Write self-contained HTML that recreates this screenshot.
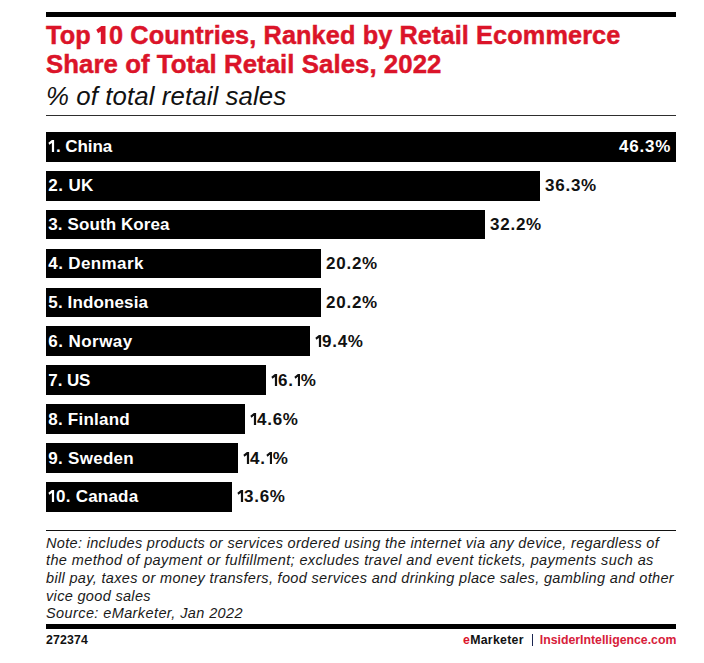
<!DOCTYPE html>
<html><head><meta charset="utf-8"><style>
html,body{margin:0;padding:0;background:#fff;}
body{width:704px;height:663px;position:relative;overflow:hidden;font-family:"Liberation Sans",sans-serif;}
.abs{position:absolute;white-space:nowrap;line-height:1;}
.rule{position:absolute;left:46px;width:630px;}
.t{color:#db1429;font-weight:bold;-webkit-text-stroke:0.45px #db1429;}
.bar{position:absolute;left:46px;height:29.8px;background:#000;}
.lab{position:absolute;left:48.3px;color:#fff;font-weight:bold;font-size:17px;line-height:1;white-space:nowrap;}
.val{position:absolute;color:#111;font-weight:bold;font-size:17px;line-height:1;white-space:nowrap;letter-spacing:0.75px;}
.val.in{color:#fff;right:33px;left:auto;}
svg.o{fill:currentColor;vertical-align:baseline;}
.val svg.o{margin-right:0.2px;}
.lab svg.o{margin-right:1px;}
.note{position:absolute;left:46px;color:#1a1a1a;font-style:italic;font-size:14.5px;line-height:1;white-space:nowrap;letter-spacing:0.33px;}
</style></head><body>
<div class="rule" style="top:12.4px;height:4.5px;background:#000"></div>
<div class="abs t" style="left:46px;top:22.6px;font-size:25.3px;letter-spacing:0.1px">Top <svg class="o" style="margin-left:-2.4px;margin-right:0.1px" width="13.4" height="17.9" viewBox="0 0 13.4 17.9"><path d="M0.3,3.7 L5.3,0 H9.5 V17.9 H4.8 V5.4 L2.1,7.3 Z"/></svg>0 Countries, Ranked by Retail Ecommerce</div>
<div class="abs t" style="left:46px;top:52.4px;font-size:25.8px;letter-spacing:0.05px">Share of Total Retail Sales, 2022</div>
<div class="abs" style="left:46px;top:83.7px;font-size:25.8px;font-style:italic;color:#111;letter-spacing:0.1px">% of total retail sales</div>
<div class="rule" style="top:115.1px;height:1.3px;background:#2e2e2e"></div>
<div class="bar" style="top:131.90px;width:630.00px"></div><span class="lab" style="top:137.80px;letter-spacing:-0.1px"><svg class="o" width="6.8" height="12.2" viewBox="0 0 6.8 12.2"><path d="M0.4,2.7 L3.9,0 H6.1 V12.2 H3.9 V3.1 L1.3,4.7 Z"/></svg>. China</span>
<span class="val in" style="top:137.80px">46.3%</span>
<div class="bar" style="top:170.80px;width:494.00px"></div><span class="lab" style="top:176.80px;letter-spacing:0.4px">2. UK</span>
<span class="val" style="top:176.80px;left:545.00px">36.3%</span>
<div class="bar" style="top:209.70px;width:439.00px"></div><span class="lab" style="top:215.80px;letter-spacing:0.1px">3. South Korea</span>
<span class="val" style="top:215.80px;left:490.00px">32.2%</span>
<div class="bar" style="top:248.60px;width:275.00px"></div><span class="lab" style="top:254.80px;letter-spacing:0.38px">4. Denmark</span>
<span class="val" style="top:254.80px;left:326.00px">20.2%</span>
<div class="bar" style="top:287.50px;width:275.00px"></div><span class="lab" style="top:293.80px;letter-spacing:0.13px">5. Indonesia</span>
<span class="val" style="top:293.80px;left:326.00px">20.2%</span>
<div class="bar" style="top:326.40px;width:264.00px"></div><span class="lab" style="top:332.80px;letter-spacing:0.45px">6. Norway</span>
<span class="val" style="top:332.80px;left:315.00px"><svg class="o" width="6.8" height="12.2" viewBox="0 0 6.8 12.2"><path d="M0.4,2.7 L3.9,0 H6.1 V12.2 H3.9 V3.1 L1.3,4.7 Z"/></svg>9.4%</span>
<div class="bar" style="top:365.30px;width:220.00px"></div><span class="lab" style="top:371.80px;letter-spacing:-0.1px">7. US</span>
<span class="val" style="top:371.80px;left:271.00px"><svg class="o" width="6.8" height="12.2" viewBox="0 0 6.8 12.2"><path d="M0.4,2.7 L3.9,0 H6.1 V12.2 H3.9 V3.1 L1.3,4.7 Z"/></svg>6.<svg class="o" width="6.8" height="12.2" viewBox="0 0 6.8 12.2"><path d="M0.4,2.7 L3.9,0 H6.1 V12.2 H3.9 V3.1 L1.3,4.7 Z"/></svg>%</span>
<div class="bar" style="top:404.20px;width:199.00px"></div><span class="lab" style="top:410.80px;letter-spacing:0.22px">8. Finland</span>
<span class="val" style="top:410.80px;left:250.00px"><svg class="o" width="6.8" height="12.2" viewBox="0 0 6.8 12.2"><path d="M0.4,2.7 L3.9,0 H6.1 V12.2 H3.9 V3.1 L1.3,4.7 Z"/></svg>4.6%</span>
<div class="bar" style="top:443.10px;width:192.00px"></div><span class="lab" style="top:449.80px;letter-spacing:0.28px">9. Sweden</span>
<span class="val" style="top:449.80px;left:243.00px"><svg class="o" width="6.8" height="12.2" viewBox="0 0 6.8 12.2"><path d="M0.4,2.7 L3.9,0 H6.1 V12.2 H3.9 V3.1 L1.3,4.7 Z"/></svg>4.<svg class="o" width="6.8" height="12.2" viewBox="0 0 6.8 12.2"><path d="M0.4,2.7 L3.9,0 H6.1 V12.2 H3.9 V3.1 L1.3,4.7 Z"/></svg>%</span>
<div class="bar" style="top:482.00px;width:186.00px"></div><span class="lab" style="top:487.80px;letter-spacing:0.22px"><svg class="o" width="6.8" height="12.2" viewBox="0 0 6.8 12.2"><path d="M0.4,2.7 L3.9,0 H6.1 V12.2 H3.9 V3.1 L1.3,4.7 Z"/></svg>0. Canada</span>
<span class="val" style="top:487.80px;left:237.00px"><svg class="o" width="6.8" height="12.2" viewBox="0 0 6.8 12.2"><path d="M0.4,2.7 L3.9,0 H6.1 V12.2 H3.9 V3.1 L1.3,4.7 Z"/></svg>3.6%</span>
<div class="rule" style="top:529.8px;height:1.3px;background:#111"></div>
<div class="note" style="top:535.6px">Note: includes products or services ordered using the internet via any device, regardless of</div>
<div class="note" style="top:553.2px;letter-spacing:0.39px">the method of payment or fulfillment; excludes travel and event tickets, payments such as</div>
<div class="note" style="top:570.9px">bill pay, taxes or money transfers, food services and drinking place sales, gambling and other</div>
<div class="note" style="top:588.5px">vice good sales</div>
<div class="note" style="top:606.1px;letter-spacing:0.4px">Source: eMarketer, Jan 2022</div>
<div class="rule" style="top:624.3px;height:4.5px;background:#000"></div>
<div class="abs" style="left:46px;top:633.6px;font-size:12.3px;font-weight:bold;color:#111;letter-spacing:0.15px">272374</div>
<div class="abs" style="left:463px;top:633.6px;font-size:12.3px;font-weight:bold;color:#111;letter-spacing:0.3px"><span style="color:#db1429">e</span>Marketer</div>
<div class="abs" style="left:531.7px;top:634px;width:1.7px;height:11.7px;background:#1b2650"></div>
<div class="abs" style="right:27.6px;top:633.6px;font-size:12.3px;font-weight:bold;color:#d7203a">InsiderIntelligence.com</div>
</body></html>
